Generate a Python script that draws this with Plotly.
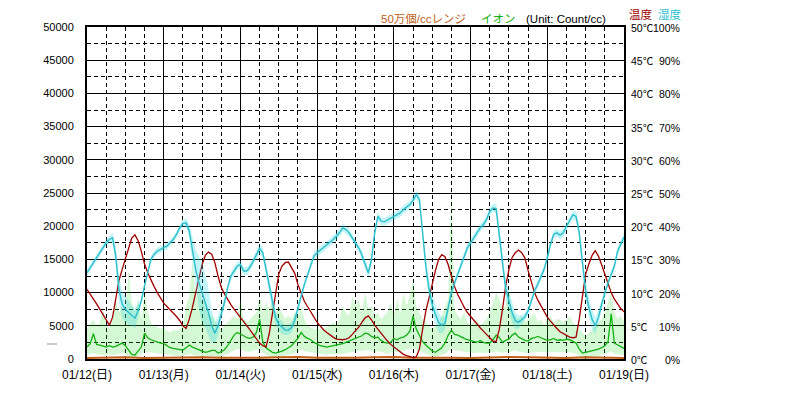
import pandas as pd
import plotly.graph_objects as go

# ---------------- data (hourly, 2025-01-12 00:00 .. 2025-01-19 00:00) ----------------
start = "2025-01-12 00:00"

temp_c = [10.5, 9.8, 9.1, 8.3, 7.5, 6.7, 5.8, 5.1, 6.3, 9.0, 11.8, 13.5, 15.0, 16.6, 18.2, 18.7, 17.8, 16.2,
          14.3, 13.0, 11.8, 10.9, 10.0, 9.2, 8.4, 7.9, 7.4, 7.0, 6.4, 5.8, 5.0, 4.6, 6.0, 7.8, 10.0, 12.4,
          14.2, 15.6, 16.1, 15.8, 14.5, 12.5, 10.8, 9.8, 8.9, 8.2, 7.5, 6.9, 6.3, 5.6, 5.0, 4.4, 3.7, 3.0,
          2.4, 2.0, 1.8, 3.8, 7.0, 10.0, 12.8, 14.0, 14.5, 14.6, 13.8, 12.9, 11.2, 9.8, 8.7, 7.9, 7.0, 6.3,
          5.5, 4.9, 4.4, 4.0, 3.6, 3.3, 3.0, 2.9, 2.9, 3.0, 3.2, 3.7, 4.2, 4.8, 5.5, 6.2, 6.5, 5.9, 5.1,
          4.5, 3.8, 3.2, 2.7, 2.2, 1.8, 1.4, 1.0, 0.7, 0.5, 0.3, 0.2, 0.3, 1.5, 4.5, 7.2, 9.2, 11.5, 13.3,
          15.0, 15.7, 15.4, 14.2, 12.5, 10.9, 9.7, 8.7, 7.8, 7.0, 6.4, 5.8, 5.2, 4.7, 4.2, 3.7, 3.1, 2.7,
          2.6, 4.5, 7.5, 11.0, 13.5, 15.3, 16.0, 16.4, 16.0, 15.2, 13.3, 11.5, 10.0, 8.9, 8.0, 7.2, 6.3,
          5.7, 5.1, 4.6, 4.1, 3.8, 3.5, 3.3, 3.2, 3.3, 6.0, 9.8, 12.8, 14.3, 15.6, 16.3, 15.5, 14.2, 12.8,
          11.3, 10.0, 9.0, 8.2, 7.6, 7.1]

humidity = [26.0, 27.5, 29.0, 30.5, 32.0, 33.5, 35.0, 36.0, 36.5, 31.0, 21.0, 16.5, 15.0, 14.0, 13.0, 12.3,
            14.5, 17.5, 22.0, 26.5, 30.0, 31.5, 32.5, 33.0, 33.5, 34.0, 35.0, 36.0, 37.5, 39.5, 40.8, 41.0,
            38.5, 33.0, 27.0, 23.0, 20.0, 17.5, 14.0, 10.0, 7.8, 10.0, 13.5, 17.0, 21.5, 25.0, 26.5, 28.0,
            28.5, 26.5, 26.5, 27.7, 29.5, 31.5, 33.3, 32.0, 27.0, 22.5, 17.0, 12.5, 10.5, 9.5, 8.7, 8.7,
            9.5, 11.7, 15.0, 19.0, 22.5, 25.5, 28.5, 31.0, 32.0, 32.8, 33.5, 34.2, 35.0, 36.0, 37.0, 38.0,
            39.5, 39.0, 38.0, 36.5, 35.0, 33.5, 31.3, 28.5, 25.9, 30.0, 38.0, 43.0, 41.5, 41.3, 41.8, 42.3,
            42.8, 43.3, 44.0, 45.0, 45.8, 46.5, 47.8, 49.5, 48.0, 38.0, 28.0, 21.0, 16.5, 13.5, 11.0, 10.2,
            10.8, 15.5, 20.0, 23.0, 25.5, 28.0, 31.0, 33.5, 35.0, 36.5, 38.0, 39.5, 40.5, 42.0, 44.5, 45.5,
            45.3, 38.0, 29.0, 21.0, 17.5, 14.0, 11.5, 11.1, 11.8, 12.7, 14.5, 17.5, 20.5, 22.5, 24.5, 27.0,
            30.5, 34.5, 37.5, 38.0, 37.3, 38.0, 40.0, 41.9, 43.4, 43.0, 38.0, 29.0, 20.5, 15.5, 12.0, 10.0,
            12.5, 16.5, 19.9, 23.0, 25.5, 28.0, 32.5, 34.5, 36.7]

humidity_spread = [1, 1, 1, 1, 1, 1, 1, 1, 1.5,
                   3, 4, 4, 4, 3.5, 3, 3, 2,
                   1, 1, 1, 1, 1, 1, 1, 1,
                   1, 1, 1, 1, 1, 1, 1.5, 2,
                   4, 6, 8, 9, 8, 7, 5, 3,
                   3, 2, 1.5, 1.2, 1.2, 1.2, 1.2, 1.2,
                   1.2, 1.2, 1.2, 1.2, 1.2, 1.5, 1.5, 2,
                   2.5, 2.5, 2.5, 2, 2, 1.5, 1.5, 1.5,
                   1.5, 1.5, 1.2, 1.2, 1.2, 1.2, 1.2, 1.2,
                   1.2, 1.2, 1.2, 1.2, 1.2, 1.2, 1.2, 1.2,
                   1.2, 1.2, 1.2, 1.2, 1.2, 1.5, 1.5, 1.5,
                   1.5, 1.5, 1.2, 1.2, 1.2, 1.2, 1.2, 1.2,
                   1.2, 1.2, 1.2, 1.2, 1.2, 1.2, 1.2, 1.5,
                   2, 2.5, 3, 3, 3, 3, 2.5, 2,
                   1.5, 1.2, 1.2, 1.2, 1.2, 1.2, 1.2, 1.2,
                   1.2, 1.2, 1.2, 1.2, 1.2, 1.2, 1.2, 1.5,
                   2, 2.5, 3, 3, 3, 2.5, 2, 1.5,
                   1.2, 1.2, 1.2, 1.2, 1.2, 1.2, 1.2, 1.2,
                   1.2, 1.2, 1.2, 1.2, 1.2, 1.2, 1.2, 1.2,
                   1.5, 2, 2.5, 3, 3, 3, 2.5, 2,
                   1.5, 1.2, 1.2, 1.2, 1.2, 1.2, 1.2, 1.2]

ion = [1800, 2300, 3800, 2200, 2100, 2000, 1800, 2000, 1800, 1900, 2200, 2400, 2000, 1300, 700, 600,
       1200, 1800, 3900, 3200, 2900, 2700, 2600, 2400, 2300, 2000, 1700, 1600, 1500, 1400, 1350, 1700,
       2100, 1800, 1600, 1500, 1200, 1000, 1100, 1300, 1300, 900, 1100, 1400, 2000, 2800, 3600, 4000,
       3800, 3500, 3200, 3100, 3300, 4000, 6000, 2600, 1700, 1300, 1000, 900, 1000, 1200, 1400, 1650,
       2000, 2600, 3100, 4000, 3400, 3100, 2900, 2500, 2200, 2000, 1900, 1800, 1900, 2000, 2100, 2100,
       2300, 2500, 2700, 2900, 3100, 3300, 3500, 3900, 3800, 3400, 3200, 3300, 2800, 2500, 2400, 2500,
       3100, 2900, 3200, 3300, 3600, 4200, 6500, 4500, 3600, 2600, 2100, 1600, 1200, 1000, 1300, 1700,
       2400, 3600, 4300, 3700, 3600, 3300, 3100, 2900, 2800, 2700, 2500, 2800, 2500, 2400, 2400, 2900,
       3600, 3200, 2500, 2800, 3000, 3600, 3900, 3300, 3000, 2800, 2700, 3100, 3200, 3400, 3200, 3000,
       2800, 2900, 3100, 2800, 2900, 2800, 3000, 2900, 2700, 2400, 1500, 900, 1000, 1100, 1200, 1300,
       1500, 1700, 2000, 2600, 6800, 2400, 2100, 1900, 1600]

ion_hi = [4500, 5200, 6000, 4800, 5500, 7500, 5000, 4500, 6000, 9000, 7000, 8000, 6500, 13500, 8500, 7000,
          9000, 6000, 10000, 7000, 5500, 5000, 4800, 4500, 4800, 4200, 4000, 4400, 4200, 4500, 5000, 8000,
          9500, 15000, 9000, 11000, 8500, 9000, 7000, 6500, 6000, 5000, 4500, 5000, 5500, 6000, 6500, 6000,
          9000, 6000, 5500, 6000, 6500, 7000, 9500, 7000, 8500, 7500, 9000, 6500, 8000, 7000, 6000, 6500,
          6000, 7000, 6500, 8000, 6000, 5000, 4800, 4500, 4600, 4400, 4500, 4800, 5000, 5500, 5000, 6000,
          8000, 7000, 6500, 9500, 8000, 9000, 7000, 10000, 7500, 8000, 6500, 7000, 6000, 6500, 7000, 8500,
          6500, 9000, 7000, 10000, 8000, 9500, 12000, 8000, 7000, 6000, 5500, 5000, 4500, 5000, 5500, 6500,
          8000, 9000, 25000, 7500, 6500, 6000, 7000, 5500, 5200, 5500, 6000, 5000, 5500, 6000, 7000, 8500,
          10000, 9000, 7500, 8000, 10500, 7000, 6500, 6000, 6500, 5500, 6000, 6500, 7000, 5500, 6000, 5000,
          6000, 6500, 5500, 6000, 6000, 5500, 6000, 6500, 5500, 5000, 4500, 4000, 3500, 3800, 4500, 5000,
          5500, 6000, 7000, 8500, 10000, 7000, 6000, 6500, 5500]

ion_lo = [600, 800, 900, 700, 700, 600, 500, 700, 600,
          600, 800, 900, 700, 300, 200, 200, 400,
          600, 1200, 1000, 1000, 900, 900, 800, 800,
          700, 600, 600, 500, 500, 500, 600, 800,
          600, 500, 500, 400, 300, 400, 500, 500,
          300, 400, 500, 700, 1000, 1300, 1500, 1400,
          1200, 1100, 1100, 1200, 1400, 1500, 900, 600,
          400, 300, 300, 300, 400, 500, 600, 700,
          900, 1100, 1400, 1200, 1100, 1000, 900, 800,
          700, 700, 600, 700, 700, 800, 800, 800,
          900, 1000, 1000, 1100, 1200, 1200, 1400, 1300,
          1200, 1100, 1200, 1000, 900, 800, 900, 1100,
          1000, 1100, 1200, 1300, 1500, 1600, 1400, 1200,
          900, 700, 500, 400, 300, 400, 600, 800,
          1200, 1500, 1300, 1300, 1200, 1100, 1000, 1000,
          900, 900, 1000, 900, 900, 900, 1000, 1200,
          1100, 900, 1000, 1000, 1200, 1300, 1100, 1000,
          1000, 900, 1100, 1100, 1200, 1100, 1000, 1000,
          1000, 1100, 1000, 1000, 1000, 1100, 1000, 900,
          800, 500, 300, 300, 400, 400, 500, 500,
          600, 700, 900, 1200, 800, 700, 700, 600]

# 50万個/cc range series, every 6 hours
range_series = [150, 200, 250, 150, 200, 300, 250, 200, 150, 200, 250, 300, 200, 150, 200,
                250, 300, 200, 250, 200, 150, 250, 300, 250, 200, 150, 250, 200, 150]

day_labels = ["01/12(日)", "01/13(月)", "01/14(火)", "01/15(水)", "01/16(木)",
              "01/17(金)", "01/18(土)", "01/19(日)"]
count_ticks = list(range(0, 50001, 5000))
temp_ticks = list(range(0, 51, 5))
hum_ticks = list(range(0, 101, 10))

for name, arr in [("temp", temp_c), ("hum", humidity), ("spread", humidity_spread),
                  ("ion", ion), ("ion_hi", ion_hi), ("ion_lo", ion_lo)]:
    assert len(arr) == 169, (name, len(arr))

# ---------------- figure ----------------
t = pd.date_range(start, periods=169, freq="h")
t6 = pd.date_range(start, periods=len(range_series), freq="6h")
days = pd.date_range(start, periods=len(day_labels), freq="D")

hum_lo = [h - s for h, s in zip(humidity, humidity_spread)]
hum_hi = [h + s for h, s in zip(humidity, humidity_spread)]

FONT = "Liberation Sans, Noto Sans CJK JP, sans-serif"
TEMP_C = "#A00000"
HUM_C = "#2EBFCC"
ION_C = "#10B010"
RANGE_C = "#C0601A"

fig = go.Figure()
# ion min/max band
fig.add_trace(go.Scatter(x=t, y=ion_lo, mode="lines", line=dict(width=0), hoverinfo="skip",
                         showlegend=False))
fig.add_trace(go.Scatter(x=t, y=ion_hi, mode="lines", line=dict(width=0), fill="tonexty",
                         fillcolor="rgba(40,215,40,0.2)", hoverinfo="skip", showlegend=False))
# humidity band
fig.add_trace(go.Scatter(x=t, y=hum_lo, yaxis="y3", mode="lines", line=dict(width=0),
                         hoverinfo="skip", showlegend=False))
fig.add_trace(go.Scatter(x=t, y=hum_hi, yaxis="y3", mode="lines", line=dict(width=0), fill="tonexty",
                         fillcolor="rgba(40,215,225,0.28)", hoverinfo="skip", showlegend=False))
# range series
fig.add_trace(go.Scatter(x=t6, y=range_series, mode="lines", line=dict(color=RANGE_C, width=2),
                         showlegend=False))
# ion line
fig.add_trace(go.Scatter(x=t, y=ion, mode="lines", line=dict(color=ION_C, width=1.3), showlegend=False))
# humidity line
fig.add_trace(go.Scatter(x=t, y=humidity, yaxis="y3", mode="lines", line=dict(color=HUM_C, width=1.4),
                         showlegend=False))
# temperature line
fig.add_trace(go.Scatter(x=t, y=temp_c, yaxis="y2", mode="lines", line=dict(color=TEMP_C, width=1.3),
                         showlegend=False))

grid_dash = "4px,3px"
fig.update_layout(
    width=786, height=399,
    margin=dict(l=87, r=162, t=27, b=40),
    paper_bgcolor="white", plot_bgcolor="white",
    font=dict(family=FONT, size=11, color="black"),
    hovermode=False,
    xaxis=dict(
        type="date", range=[days[0], days[-1]],
        tickvals=days, ticktext=day_labels, tickfont=dict(size=12),
        showgrid=True, gridcolor="black", gridwidth=1,
        minor=dict(dtick=6 * 3600 * 1000, showgrid=True, gridcolor="black", gridwidth=1,
                   griddash=grid_dash),
        showline=True, linecolor="black", linewidth=2, mirror=True,
        ticks="", zeroline=False, ticklabelstandoff=4,
    ),
    yaxis=dict(
        range=[0, 50000], tickvals=count_ticks, ticktext=[str(v) for v in count_ticks],
        showgrid=True, gridcolor="black", gridwidth=1,
        minor=dict(dtick=2500, showgrid=True, gridcolor="black", gridwidth=1, griddash=grid_dash),
        showline=True, linecolor="black", linewidth=2, mirror=True,
        ticks="", zeroline=False, ticklabelstandoff=9,
    ),
    yaxis2=dict(range=[0, 50], overlaying="y", side="right", visible=False),
    yaxis3=dict(range=[0, 100], overlaying="y", side="right", visible=False),
)

# right-hand label columns: temperature (left-aligned) and humidity (right-aligned)
for v in temp_ticks:
    fig.add_annotation(x=(630 - 87) / 537, xref="paper", y=v, yref="y2", text=f"{v}℃",
                       showarrow=False, xanchor="left", yanchor="middle", yshift=-1, borderpad=0,
                       font=dict(size=10.5, color="black"))
for v in hum_ticks:
    fig.add_annotation(x=(681 - 87) / 537, xref="paper", y=v, yref="y3", text=f"{v}%",
                       showarrow=False, xanchor="right", yanchor="middle", yshift=-1, borderpad=0,
                       font=dict(size=10.5, color="black"))

# header texts
header = [("50万個/ccレンジ", 380, 19, RANGE_C), ("イオン", 480, 19, ION_C),
          ("(Unit: Count/cc)", 525, 19, "black"), ("温度", 628, 15, TEMP_C), ("湿度", 657, 15, HUM_C)]
for txt, px, py, col in header:
    fig.add_annotation(x=(px - 87) / 537, xref="paper", y=(359 - py) / 332, yref="paper", text=txt,
                       showarrow=False, xanchor="left", yanchor="middle", borderpad=0,
                       font=dict(size=11.5, color=col))

# small gray marker at left
fig.add_shape(type="line", xref="paper", yref="paper", x0=(47 - 87) / 537, x1=(57 - 87) / 537,
              y0=(359 - 344) / 332, y1=(359 - 344) / 332, line=dict(color="#C8C8C8", width=2))

fig.write_html("out.html", config={"displayModeBar": False, "staticPlot": True},
               post_script="document.body.style.margin='0';document.body.style.overflow='hidden';")
